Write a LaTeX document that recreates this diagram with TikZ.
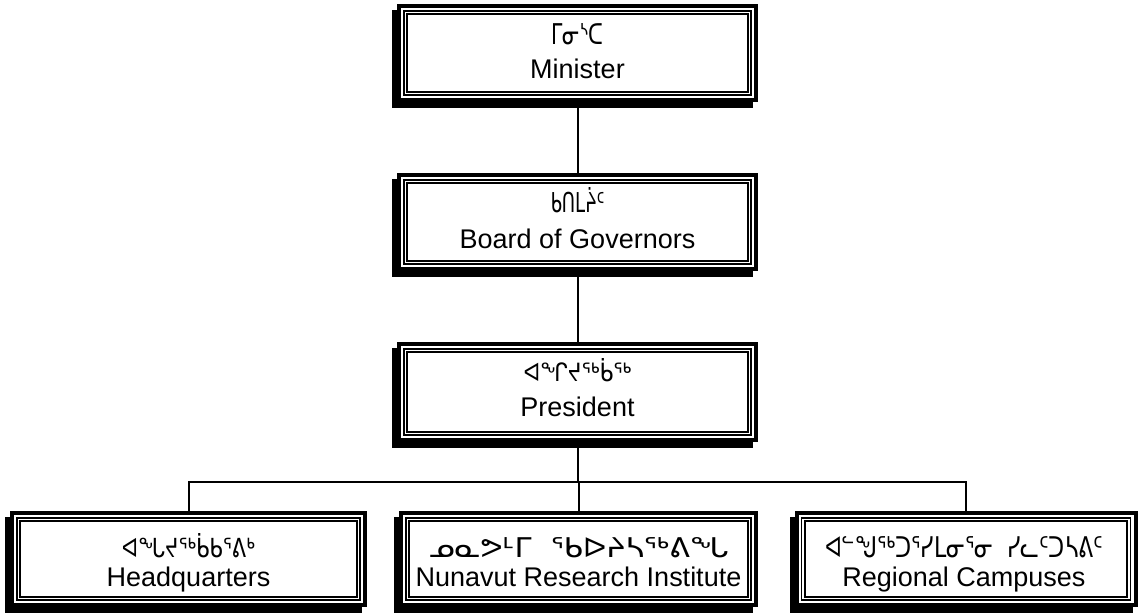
\documentclass[tikz,border=0pt]{standalone}
\usepackage{fontspec}
\usepackage{graphicx}
\setmainfont{Liberation Sans}
\newfontfamily\syl{DejaVu Sans}
\usetikzlibrary{shadows}
\begin{document}
\begin{tikzpicture}[x=1pt,y=1pt,
  orgbox/.style={draw=black, fill=white, line width=4pt, rectangle, inner sep=0pt,
    general shadow={shadow xshift=-5pt, shadow yshift=-6pt, fill=black, draw=black, line width=4pt},
    path picture={
      \draw[line width=1.3pt] ([shift={(5,-5)}]path picture bounding box.north west) rectangle ([shift={(-5,5)}]path picture bounding box.south east);
      \draw[line width=2.3pt] ([shift={(8.2,-8.2)}]path picture bounding box.north west) rectangle ([shift={(-8.2,8.2)}]path picture bounding box.south east);
    }},
  latin/.style={anchor=base, inner sep=0pt, font=\fontsize{27}{31}\selectfont},
  sylab/.style={anchor=base, inner sep=0pt},
  conn/.style={line width=2pt}]
\newcommand{\sylt}[3]{\resizebox{#1pt}{#2pt}{\syl\fontsize{20}{24}\selectfont #3}}
\fill[white] (0,0) rectangle (1141,614);
\useasboundingbox (0,0) rectangle (1141,614);

\node[orgbox, minimum width=357, minimum height=94] (min) at (577.5,561) {};
\node[orgbox, minimum width=357, minimum height=94] (bog) at (577.5,392) {};
\node[orgbox, minimum width=357, minimum height=96] (pres) at (577.5,222) {};
\node[orgbox, minimum width=353, minimum height=92] (hq) at (188.5,55) {};
\node[orgbox, minimum width=355, minimum height=92] (nri) at (578.5,55) {};
\node[orgbox, minimum width=339, minimum height=92] (rc) at (966,55) {};

\coordinate (bus) at (577.5,132);
\draw[conn] (min.south) -- (bog.north);
\draw[conn] (bog.south) -- (pres.north);
\draw[conn] (pres.south) -- (bus);
\draw[conn] (hq.north) |- (bus) -| (rc.north);
\draw[conn] (nri.north |- bus) -- (nri.north);

\node[sylab] (minS) at (577.5,569) {\sylt{52}{21}{ᒥᓂᔅᑕ}};
\node[latin] (minL) at (577.5,535) {Minister};
\node[sylab] (bogS) at (577.5,401) {\sylt{54}{25}{ᑲᑎᒪᔩᑦ}};
\node[latin] (bogL) at (577.5,365) {Board of Governors};
\node[sylab] (presS) at (577.5,233) {\sylt{108}{23}{ᐊᖏᔪᖅᑳᖅ}};
\node[latin] (presL) at (577.5,198) {President};
\node[sylab] (hqS) at (188.5,57) {\sylt{133}{24}{ᐊᖓᔪᖅᑳᑲᕐᕕᒃ}};
\node[latin] (hqL) at (188.5,28) {Headquarters};
\node[sylab] (nriS) at (578.5,57) {\sylt{300}{20}{ᓄᓇᕗᒻᒥ\ \ ᖃᐅᔨᓴᖅᕕᖓ}};
\node[latin] (nriL) at (578.5,28) {Nunavut Research Institute};
\node[sylab] (rcS) at (964,57) {\sylt{278}{21}{ᐊᓪᖑᖅᑐᕐᓯᒪᓂᕐᓂ\ \ ᓯᓚᑦᑐᓴᕕᑦ}};
\node[latin] (rcL) at (964,28) {Regional Campuses};
\end{tikzpicture}
\end{document}
